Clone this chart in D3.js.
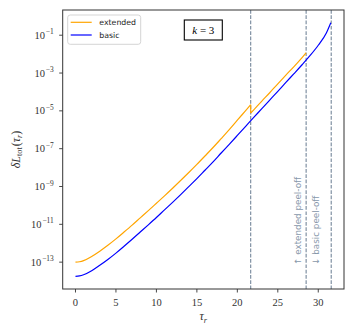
<!DOCTYPE html>
<html>
<head>
<meta charset="utf-8">
<script src="https://cdn.jsdelivr.net/npm/d3@7"></script>
<style>
  body { margin: 0; background: #fff; }
  svg { display: block; }
  .tick-label { font-family: "Liberation Serif", "DejaVu Serif", serif; fill: #333; }
</style>
</head>
<body>
<svg id="graph-svg" width="354" height="332"></svg>
<script>
// extended peel-off, lower branch (before the jump)
const tauExtA = [0, 0.5, 1, 2, 3, 4, 5, 6, 7, 8, 9, 10, 11, 12, 13, 14, 15, 16, 17, 18, 19, 20, 21, 21.65];
const extA = [1.0e-13, 1.05e-13, 1.2e-13, 2.0e-13, 3.8e-13, 7.8e-13, 1.7e-12, 3.9e-12, 9.1e-12, 2.2e-11,
              5.3e-11, 1.3e-10, 3.2e-10, 8.1e-10, 2.1e-9, 5.5e-9, 1.48e-8, 4.1e-8, 1.15e-7, 3.4e-7,
              1.02e-6, 3.2e-6, 1.0e-5, 2.1e-5];
// extended peel-off, after the jump
const tauExtB = [21.65, 22, 23, 24, 25, 26, 27, 28, 28.5];
const extB = [7.6e-6, 1.1e-5, 3.2e-5, 9.1e-5, 2.7e-4, 7.8e-4, 2.2e-3, 6.6e-3, 1.17e-2];

// basic peel-off
const tauBasic = [0, 0.5, 1, 2, 3, 4, 5, 6, 7, 8, 9, 10, 11, 12, 13, 14, 15, 16, 17, 18, 19, 20,
                  21, 22, 23, 24, 25, 26, 27, 28, 29, 30, 31, 31.55];
const basic = [1.78e-14, 1.86e-14, 2.14e-14, 3.5e-14, 6.8e-14, 1.38e-13, 3.0e-13, 6.9e-13, 1.62e-12, 3.9e-12,
               9.4e-12, 2.3e-11, 5.8e-11, 1.45e-10, 3.7e-10, 9.8e-10, 2.6e-9, 7.2e-9, 2.0e-8, 5.9e-8,
               1.7e-7, 5.0e-7, 1.48e-6, 4.4e-6, 1.27e-5, 3.7e-5, 1.08e-4, 3.2e-4, 9.3e-4, 2.75e-3,
               8.5e-3, 2.95e-2, 0.132, 0.46];

// dashed markers
const vLines = [21.65, 28.5, 31.6];

const xTicks = [0, 5, 10, 15, 20, 25, 30];
const yTickExps = [-13, -11, -9, -7, -5, -3, -1];

const svg = d3.select("#graph-svg");
const margin = { left: 62.7, top: 10, right: 10, bottom: 43 };
const W = 354, H = 332;
const x0 = margin.left, x1 = W - margin.right;
const y0 = margin.top, y1 = H - margin.bottom;

// matplotlib style 5% margins (log space for y)
const xMax = d3.max(vLines);
const xPad = xMax * 0.05;
const x = d3.scaleLinear().domain([-xPad, xMax + xPad]).range([x0, x1]);

const allY = basic.concat(extA, extB);
const lo = Math.log10(d3.min(allY)), hi = Math.log10(d3.max(allY));
const yPad = (hi - lo) * 0.05;
const y = d3.scaleLog().domain([10 ** (lo - yPad), 10 ** (hi + yPad)]).range([y1, y0]);

const line = d3.line()
    .x(d => x(d[0]))
    .y(d => y(d[1]))
    .curve(d3.curveMonotoneX);

// clip to axes
svg.append("defs").append("clipPath").attr("id", "clip")
    .append("rect").attr("x", x0).attr("y", y0).attr("width", x1 - x0).attr("height", y1 - y0);
const plot = svg.append("g").attr("clip-path", "url(#clip)");

// vertical dashed lines
plot.selectAll(".vline")
    .data(vLines)
    .enter().append("line")
    .attr("x1", d => x(d)).attr("x2", d => x(d))
    .attr("y1", y0).attr("y2", y1)
    .attr("stroke", "#74869a")
    .attr("stroke-width", 1.1)
    .attr("stroke-dasharray", "3.7,1.6");

// curves
plot.append("path")
    .attr("d", line(d3.zip(tauExtA, extA)))
    .attr("fill", "none").attr("stroke", "#ffa500").attr("stroke-width", 1.2);
plot.append("path")
    .attr("d", line(d3.zip(tauExtB, extB)))
    .attr("fill", "none").attr("stroke", "#ffa500").attr("stroke-width", 1.2);
// the jump itself
plot.append("line")
    .attr("x1", x(tauExtA[tauExtA.length - 1])).attr("x2", x(tauExtB[0]))
    .attr("y1", y(extA[extA.length - 1])).attr("y2", y(extB[0]))
    .attr("stroke", "#ffa500").attr("stroke-width", 1.2);
plot.append("path")
    .attr("d", line(d3.zip(tauBasic, basic)))
    .attr("fill", "none").attr("stroke", "#0000ff").attr("stroke-width", 1.2);

// peel-off annotations
const noteColor = "#8797aa";
const notes = [
    { text: "\u2191 extended peel-off", dx: -4.8 },
    { text: "\u2193 basic peel-off", dx: 12.6 }
];
svg.selectAll(".note")
    .data(notes)
    .enter().append("text")
    .attr("transform", d => `translate(${x(vLines[1]) + d.dx},265) rotate(-90)`)
    .attr("font-family", "DejaVu Sans")
    .attr("font-size", 8.8)
    .attr("fill", noteColor)
    .text(d => d.text);

// frame
svg.append("rect")
    .attr("x", x0).attr("y", y0).attr("width", x1 - x0).attr("height", y1 - y0)
    .attr("fill", "none").attr("stroke", "#333").attr("stroke-width", 1);

// x ticks
const xt = svg.selectAll(".xtick").data(xTicks).enter().append("g")
    .attr("transform", d => `translate(${x(d)},${y1})`);
xt.append("line").attr("y2", 3.5).attr("stroke", "#333").attr("stroke-width", 0.9);
xt.append("text")
    .attr("class", "tick-label")
    .attr("y", 17.3)
    .attr("text-anchor", "middle")
    .attr("font-size", 10.5)
    .text(d => d);

// y ticks
const yt = svg.selectAll(".ytick").data(yTickExps).enter().append("g")
    .attr("transform", d => `translate(${x0},${y(10 ** d)})`);
yt.append("line").attr("x2", -3.5).attr("stroke", "#333").attr("stroke-width", 0.9);
const ylab = yt.append("text")
    .attr("class", "tick-label")
    .attr("x", -9)
    .attr("y", 3.6)
    .attr("text-anchor", "end")
    .attr("font-size", 10.5);
ylab.append("tspan").text("10");
ylab.append("tspan")
    .attr("dx", 0.8)
    .attr("dy", -4.6)
    .attr("font-size", 7.4)
    .text(d => "\u2212" + Math.abs(d));

// axis labels
svg.append("text")
    .attr("class", "tick-label")
    .attr("x", (x0 + x1) / 2)
    .attr("y", 320)
    .attr("text-anchor", "middle")
    .attr("font-size", 12)
    .attr("font-style", "italic")
    .call(t => {
        t.append("tspan").text("\u03c4");
        t.append("tspan").attr("dy", 2.5).attr("font-size", 8.4).text("r");
    });

svg.append("text")
    .attr("class", "tick-label")
    .attr("transform", `translate(19.5,${(y0 + y1) / 2}) rotate(-90)`)
    .attr("text-anchor", "middle")
    .attr("font-size", 12)
    .call(t => {
        t.append("tspan").attr("font-style", "italic").text("\u03b4L");
        t.append("tspan").attr("dy", 2.5).attr("font-size", 8.4).text("tot");
        t.append("tspan").attr("dy", -2.5).attr("dx", 1).text("(");
        t.append("tspan").attr("font-style", "italic").text("\u03c4");
        t.append("tspan").attr("dy", 2.5).attr("font-size", 8.4).attr("font-style", "italic").text("r");
        t.append("tspan").attr("dy", -2.5).text(")");
    });

// legend
const legend = svg.append("g").attr("transform", "translate(67.7,15)");
legend.append("rect")
    .attr("width", 73).attr("height", 29.3).attr("rx", 2.5)
    .attr("fill", "#fff").attr("fill-opacity", 0.8)
    .attr("stroke", "#d0d0d0").attr("stroke-width", 0.9);
const legendItems = [
    { label: "extended", color: "#ffa500" },
    { label: "basic", color: "#0000ff" }
];
const li = legend.selectAll(".item").data(legendItems).enter().append("g")
    .attr("transform", (d, i) => `translate(0,${7.3 + i * 12.7})`);
li.append("line").attr("x1", 3).attr("x2", 24).attr("stroke", d => d.color).attr("stroke-width", 1.2);
li.append("text")
    .attr("x", 31.6).attr("y", 3)
    .attr("font-family", "DejaVu Sans").attr("font-size", 7.8).attr("fill", "#222")
    .text(d => d.label);

// k = 3 box
const kbox = svg.append("g").attr("transform", "translate(184.3,20)");
kbox.append("rect")
    .attr("width", 38).attr("height", 20)
    .attr("fill", "#fff").attr("stroke", "#000").attr("stroke-width", 1.1);
kbox.append("text")
    .attr("class", "tick-label")
    .attr("x", 19).attr("y", 14)
    .attr("text-anchor", "middle")
    .attr("font-size", 11)
    .style("fill", "#000")
    .call(t => {
        t.append("tspan").attr("font-style", "italic").text("k");
        t.append("tspan").text(" = 3");
    });
</script>
</body>
</html>
